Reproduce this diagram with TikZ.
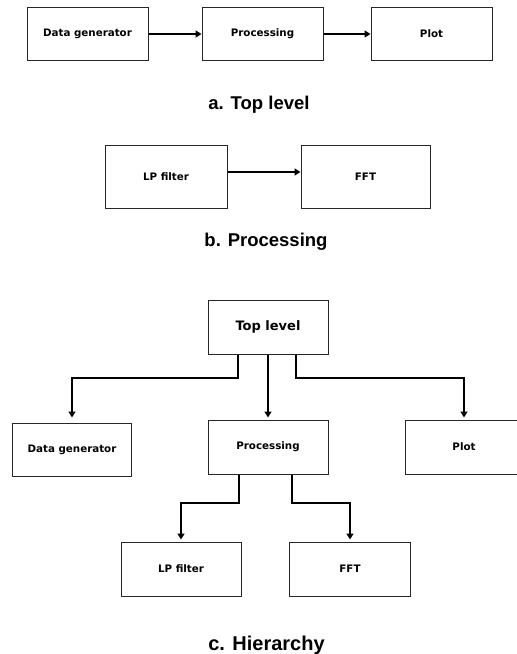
\documentclass[tikz,border=0pt]{standalone}
\usepackage{fontspec}
\setmainfont{Liberation Sans}
\newfontfamily\boxfont{DejaVu Sans}
\usetikzlibrary{arrows.meta}

\tikzset{
  block/.style={draw=black!85, line width=1pt, fill=white, inner sep=0pt,
    font=\boxfont\bfseries\fontsize{10.3}{12}\selectfont},
  conn/.style={line width=2pt, line join=miter,
    -{Triangle[width=7pt,length=6pt]}},
  caption/.style={anchor=base, font=\bfseries\fontsize{18.5}{22}\selectfont}
}

\begin{document}
\begin{tikzpicture}[x=1pt, y=-1pt]
  \useasboundingbox (0,0) rectangle (517,654);
  \fill[white] (0,0) rectangle (517,654);
  \clip (0,0) rectangle (517,654);

  % a. top level chain
  \node[block, minimum width=121pt, minimum height=53pt] (gen1) at (87.5,34) {Data generator};
  \node[block, minimum width=121pt, minimum height=53pt] (proc1) at (262.5,34) {Processing};
  \node[block, minimum width=121pt, minimum height=53pt] (plot1) at (431.5,34) {Plot};
  \draw[conn] (gen1.east) -- (proc1.west);
  \draw[conn] (proc1.east) -- (plot1.west);
  \node[caption] (capa) at (259,109) {a. Top level};

  % b. processing chain
  \node[block, minimum width=122pt, minimum height=63pt] (lp1) at (166,176.5) {LP filter};
  \node[block, minimum width=129pt, minimum height=63pt] (fft1) at (365.5,176.5) {FFT};
  \draw[conn] ([yshift=4.5pt]lp1.east) -- ([yshift=4.5pt]fft1.west);
  \node[caption] (capb) at (266,246.5) {b. Processing};

  % c. hierarchy tree
  \node[block, minimum width=120pt, minimum height=54pt,
        font=\boxfont\bfseries\fontsize{13}{15}\selectfont] (top) at (268,327) {Top level};
  \node[block, minimum width=119pt, minimum height=53pt] (gen) at (72,449.5) {Data generator};
  \node[block, minimum width=120pt, minimum height=54pt] (proc) at (268,447) {Processing};
  \node[block, minimum width=117pt, minimum height=54pt] (plot) at (464,447) {Plot};
  \node[block, minimum width=120pt, minimum height=54pt] (lp) at (181,569) {LP filter};
  \node[block, minimum width=121pt, minimum height=54pt] (fft) at (350,569) {FFT};

  \coordinate (tl) at ([xshift=-30pt]top.south);
  \coordinate (tr) at ([xshift=28pt]top.south);
  \draw[conn, shorten >=5pt] (tl) -- (tl |- 0,378) -| (gen.north);
  \draw[conn, shorten >=2pt] (top.south) -- (proc.north);
  \draw[conn, shorten >=2pt] (tr) -- (tr |- 0,378) -| (plot.north);

  \coordinate (pl) at ([xshift=-29pt]proc.south);
  \coordinate (pr) at ([xshift=24pt]proc.south);
  \draw[conn, shorten >=2pt] (pl) -- (pl |- 0,503) -| (lp.north);
  \draw[conn, shorten >=2pt] (pr) -- (pr |- 0,503) -| (fft.north);

  \node[caption, font=\bfseries\fontsize{20}{24}\selectfont] (capc) at (266.5,650.7) {c. Hierarchy};
\end{tikzpicture}
\end{document}
